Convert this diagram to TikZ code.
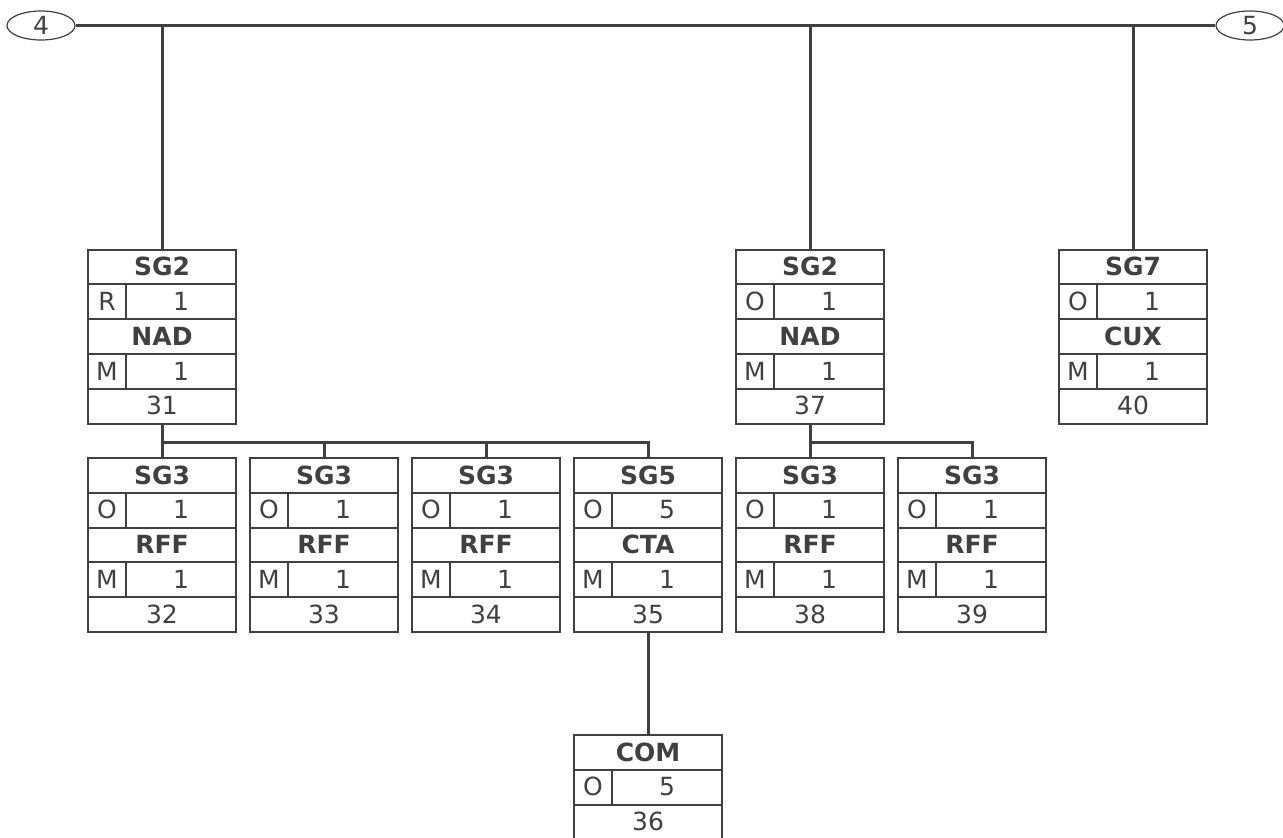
\documentclass[tikz,border=0pt]{standalone}
\usepackage{fontspec}
\setmainfont{DejaVu Sans}
\usetikzlibrary{shapes.geometric}
\definecolor{ink}{HTML}{404040}
\tikzset{
  conn/.style={draw=ink, line width=3pt},
  boxframe/.style={draw=ink, line width=2pt, minimum width=148pt, inner sep=0pt},
  rowline/.style={draw=ink, line width=2pt},
  txt/.style={text=ink, font=\fontsize{25}{29}\selectfont, inner sep=0pt, text height=17.5pt, text depth=0pt, anchor=center},
  btxt/.style={txt, font=\fontsize{25}{29}\selectfont\bfseries},
  terminal/.style={draw=ink, line width=1.2pt, ellipse, minimum width=68pt, minimum height=29pt, inner sep=0pt, text=ink, font=\fontsize{25}{29}\selectfont, text height=17.5pt, text depth=0pt}
}
\newcommand\segbox[9]{%
  \node[boxframe, minimum height=174pt] (b#1) at ({#2},{#3+87}) {};
  \foreach \k in {1,2,3,4} \draw[rowline] ({#2-74},{#3+34.8*\k}) -- ++(148,0);
  \draw[rowline] ({#2-36},{#3+34.8}) -- ++(0,34.8);
  \draw[rowline] ({#2-36},{#3+104.4}) -- ++(0,34.8);
  \node[btxt] (b#1-grp) at ({#2},{#3+17.4}) {#4};
  \node[txt] (b#1-st1) at ({#2-55},{#3+52.2}) {#5};
  \node[txt] (b#1-rp1) at ({#2+19},{#3+52.2}) {#6};
  \node[btxt] (b#1-seg) at ({#2},{#3+87}) {#7};
  \node[txt] (b#1-st2) at ({#2-55},{#3+121.8}) {#8};
  \node[txt] (b#1-rp2) at ({#2+19},{#3+121.8}) {#9};
  \node[txt] (b#1-num) at ({#2},{#3+156.6}) {#1};
}
\newcommand\segboxthree[6]{%
  \node[boxframe, minimum height=104.4pt] (b#1) at ({#2},{#3+52.2}) {};
  \foreach \k in {1,2} \draw[rowline] ({#2-74},{#3+34.8*\k}) -- ++(148,0);
  \draw[rowline] ({#2-36},{#3+34.8}) -- ++(0,34.8);
  \node[btxt] (b#1-seg) at ({#2},{#3+17.4}) {#4};
  \node[txt] (b#1-st1) at ({#2-55},{#3+52.2}) {#5};
  \node[txt] (b#1-rp1) at ({#2+19},{#3+52.2}) {#6};
  \node[txt] (b#1-num) at ({#2},{#3+87}) {#1};
}
\begin{document}
\begin{tikzpicture}[x=1pt,y=-1pt]
\useasboundingbox (0,0) rectangle (1283,838);
\node[terminal] (t4) at (41,25.5) {4};
\node[terminal] (t5) at (1250,25.5) {5};
\draw[conn] (t4.east) -- (t5.west);

\segbox{31}{162}{249.5}{SG2}{R}{1}{NAD}{M}{1}
\segbox{37}{810}{249.5}{SG2}{O}{1}{NAD}{M}{1}
\segbox{40}{1133}{249.5}{SG7}{O}{1}{CUX}{M}{1}
\segbox{32}{162}{458}{SG3}{O}{1}{RFF}{M}{1}
\segbox{33}{324}{458}{SG3}{O}{1}{RFF}{M}{1}
\segbox{34}{486}{458}{SG3}{O}{1}{RFF}{M}{1}
\segbox{35}{648}{458}{SG5}{O}{5}{CTA}{M}{1}
\segbox{38}{810}{458}{SG3}{O}{1}{RFF}{M}{1}
\segbox{39}{972}{458}{SG3}{O}{1}{RFF}{M}{1}
\segboxthree{36}{648}{735}{COM}{O}{5}

\draw[conn] (b31.north) -- (b31.north |- t4.east);
\draw[conn] (b37.north) -- (b37.north |- t4.east);
\draw[conn] (b40.north) -- (b40.north |- t4.east);

\coordinate (j31) at (162,442);
\draw[conn] (b31.south) -- (b32.north);
\draw[conn] (j31) -| (b33.north);
\draw[conn] (j31) -| (b34.north);
\draw[conn] (j31) -| (b35.north);

\coordinate (j37) at (810,442);
\draw[conn] (b37.south) -- (b38.north);
\draw[conn] (j37) -| (b39.north);

\draw[conn] (b35.south) -- (b36.north);
\end{tikzpicture}
\end{document}
